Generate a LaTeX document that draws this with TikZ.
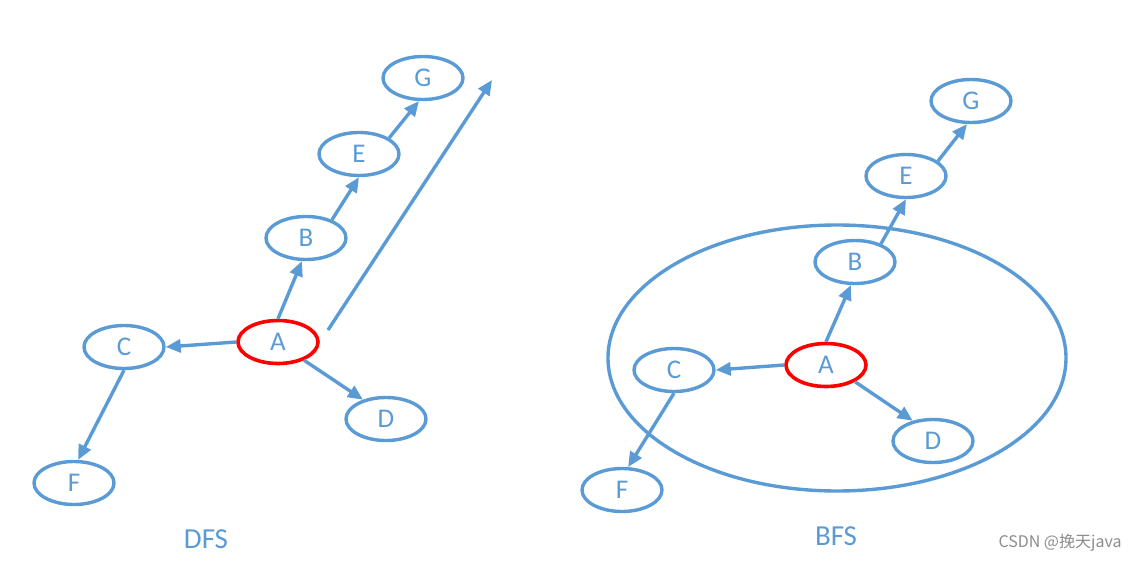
\documentclass[tikz,border=0pt]{standalone}
\usepackage{fontspec}
\setmainfont{Carlito}
\newfontfamily\cjkfont{Noto Sans CJK SC}
\usetikzlibrary{shapes.geometric,arrows.meta}
\definecolor{nodeblue}{HTML}{5B9BD5}
\definecolor{wmgray}{HTML}{8C8C8C}
\tikzset{
  vtx/.style={ellipse,draw=nodeblue,line width=3.4pt,minimum width=80pt,minimum height=43pt,inner sep=0pt,text=nodeblue,font=\fontsize{27}{30}\selectfont},
  rootvtx/.style={vtx,draw=red,line width=3.6pt},
  edge/.style={draw=nodeblue,line width=3.4pt,-{Triangle[length=15pt,width=13pt]}},
  plain/.style={draw=nodeblue,line width=3.4pt},
  caption/.style={text=nodeblue,font=\fontsize{29}{32}\selectfont},
}
\begin{document}
\begin{tikzpicture}[x=1pt,y=-1pt]
\useasboundingbox (0,0) rectangle (1135,562);
% DFS
\node[vtx] (dG) at (423,78) {G};
\node[vtx] (dE) at (359,154) {E};
\node[vtx] (dB) at (306,238) {B};
\node[rootvtx] (dA) at (278,342) {A};
\node[vtx] (dC) at (124,347) {C};
\node[vtx] (dD) at (386,419) {D};
\node[vtx] (dF) at (74,483) {F};
\coordinate (dS) at (328,330);
\coordinate (dT) at (492,80);
\draw[edge] (dA.north) -- (dB.-100);
\draw[edge] (dB.35) -- (dE.south);
\draw[edge] (dE.28) -- (dG.-100);
\draw[edge] (dA.west) -- (dC.east);
\draw[edge] (dA.-35) -- (dD.140);
\draw[edge] (dC.south) -- (dF.80);
\draw[edge] (dS) -- (dT);
\node[caption] (dfs) at (206,539) {DFS};
% BFS
\node[ellipse,plain,minimum width=458pt,minimum height=266pt,inner sep=0pt] (ring) at (837,358) {};
\node[vtx] (bG) at (971,101) {G};
\node[vtx] (bE) at (906,176) {E};
\node[vtx] (bB) at (855,262) {B};
\node[rootvtx] (bA) at (826,365) {A};
\node[vtx] (bC) at (674,370) {C};
\node[vtx] (bD) at (933,441) {D};
\node[vtx] (bF) at (622,490) {F};
\draw[edge] (bA.north) -- (bB.-100);
\draw[edge] (bB.35) -- (bE.south);
\draw[edge] (bE.25) -- (bG.-100);
\draw[edge] (bA.west) -- (bC.east);
\draw[edge] (bA.-30) -- (bD.135);
\draw[edge] (bC.south) -- (bF.75);
\node[caption] (bfs) at (836,536) {BFS};
% watermark
\node[text=wmgray,font=\cjkfont\fontsize{16}{18}\selectfont] (wm) at (1060,543) {CSDN @挽天java};
\end{tikzpicture}
\end{document}
